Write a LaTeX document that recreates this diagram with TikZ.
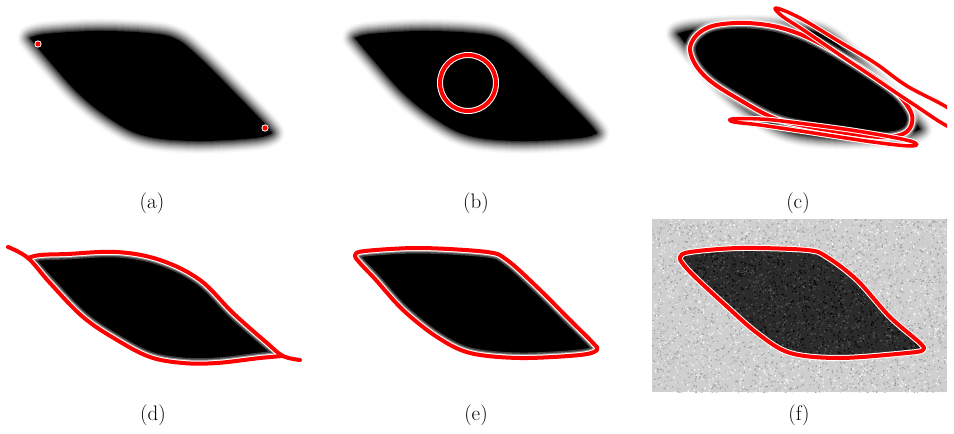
\documentclass[tikz,border=0pt]{standalone}
\begin{document}
\tikzset{
  redline/.style={draw=red, line width=4pt, line cap=round, line join=round},
  whiteline/.style={draw=white, line width=6pt, line cap=round, line join=round},
  glowa/.style={draw=white, opacity=0.25, line width=11pt, line join=round, line cap=round},
  glowb/.style={draw=white, opacity=0.4, line width=8pt, line join=round, line cap=round},
  lbl/.style={font=\fontsize{21}{25}\selectfont, inner sep=0pt},
}
\newcommand\lenspath{plot[smooth,tension=0.6] coordinates {(0,0) (15,-4) (65,-7) (118,-5) (146,1) (170,20) (205,55) (234,85) (242,95)} -- plot[smooth,tension=0.6] coordinates {(242,95) (225,100) (165,103) (115,98) (82,82) (48,55) (15,18) (0,0)} -- cycle}
\newcommand\blurlens[1]{%
  \begin{scope}[shift={#1}]
    \foreach \w in {26,24,...,2}{\pgfmathtruncatemacro\g{92*(1-\w/28)^1.6}\draw[line width=\w pt, black!\g, line join=round] \lenspath;}
    \fill \lenspath;
  \end{scope}}
\newcommand\halo[1]{%
  \draw[glowa] #1; \draw[glowb] #1; \draw[whiteline] #1; \draw[redline] #1;}
\def\cmain{plot[smooth cycle, tension=0.6] coordinates {(690,50) (695,37) (707,28) (723,24) (747,23) (773,26) (797,33) (817,42) (840,55) (867,72) (890,88) (903,100) (912,115) (910,128) (900,135) (880,137) (840,132) (790,123) (767,115) (740,100) (713,83) (697,67)}}
\def\cloopA{plot[smooth cycle, tension=0.6] coordinates {(776,8) (800,18) (840,42) (875,63) (907,86) (952,111) (952,128) (910,102) (873,77) (840,55) (805,31) (782,16)}}
\def\cloopB{plot[smooth cycle, tension=0.6] coordinates {(732,119) (760,119) (790,122) (857,131) (910,141) (912,146) (873,142) (807,132) (760,125) (734,122)}}
\def\dclosed{plot[smooth,tension=0.6] coordinates {(28,258) (40,255) (67,254) (117,252) (160,260) (200,280) (233,313) (267,343) (283,356)} -- plot[smooth,tension=0.6] coordinates {(283,356) (260,358) (217,363) (183,363) (150,357) (117,340) (83,317) (50,283) (28,258)} -- cycle}
\def\dcurveA{plot[smooth,tension=0.6] coordinates {(8,247) (28,258) (50,283) (83,317) (117,340) (150,357) (183,363) (217,363) (260,358) (283,356)}}
\def\dcurveB{plot[smooth,tension=0.6] coordinates {(28,258) (40,255) (67,254) (117,252) (160,260) (200,280) (233,313) (267,343) (283,356) (300,360)}}
\def\epath{plot[smooth cycle,tension=0.55] coordinates {(355,255) (365,251) (420,248) (487,252) (507,260) (537,287) (570,320) (593,343) (597,350) (580,355) (520,358) (470,353) (437,337) (403,310) (375,279) (359,262)}}
\def\fpath{plot[smooth cycle,tension=0.55] coordinates {(680,257) (690,252) (740,248) (807,250) (827,257) (857,280) (890,317) (920,343) (923,350) (907,353) (840,358) (790,353) (757,333) (723,303) (695,277) (683,264)}}
\begin{tikzpicture}[x=1pt,y=-1pt]
\useasboundingbox (0,0) rectangle (954,434);
\fill[white] (0,0) rectangle (954,434);
% (a)
\blurlens{(30,38)}
\foreach \p/\n in {{(38,44)}/pa, {(265,128)}/pb}{
  \fill[white] \p circle (3.6pt);
  \fill[red] \p circle (2.6pt) coordinate (\n);
}
% (b)
\blurlens{(355,38)}
\draw[whiteline] (468,83) circle (28);
\draw[redline] (468,83) circle (28);
% (c)
\begin{scope}
\clip (640,0) rectangle (947,170);
\blurlens{(678,34)}
\fill \cmain;
\halo{\cmain}
\draw[whiteline, line width=5.5pt] \cloopA; \draw[redline, line width=3.5pt] \cloopA;
\draw[whiteline, line width=5.5pt] \cloopB; \draw[redline, line width=3.5pt] \cloopB;
\end{scope}
% (d)
\fill \dclosed;
\draw[glowa] \dclosed; \draw[glowb] \dclosed;
\draw[whiteline] \dcurveA; \draw[whiteline] \dcurveB;
\draw[redline] \dcurveA; \draw[redline] \dcurveB;
% (e)
\fill \epath;
\halo{\epath}
% (f)
\pgfmathsetseed{7}
\begin{scope}
\clip (652,219) rectangle (947,392);
\fill[black!19] (652,219) rectangle (947,392);
\foreach \c in {2,8,14,26,32,38}{
  \fill[black!\c] \foreach \i in {1,...,900}{ ({652+296*rnd},{219+174*rnd}) rectangle ++(1.3,1.3) };
}
\end{scope}
\begin{scope}
\clip \fpath;
\fill[black!83] (670,240) rectangle (930,365);
\foreach \c in {66,72,94,98}{
  \fill[black!\c] \foreach \i in {1,...,700}{ ({676+250*rnd},{245+116*rnd}) rectangle ++(1.3,1.3) };
}
\end{scope}
\draw[whiteline] \fpath; \draw[redline] \fpath;
% labels
\node[lbl] (la) at (152,203) {(a)};
\node[lbl] (lb) at (476,203) {(b)};
\node[lbl] (lc) at (798,203) {(c)};
\node[lbl] (ld) at (153,415) {(d)};
\node[lbl] (le) at (476,415) {(e)};
\node[lbl] (lf) at (799,415) {(f)};
\end{tikzpicture}
\end{document}
